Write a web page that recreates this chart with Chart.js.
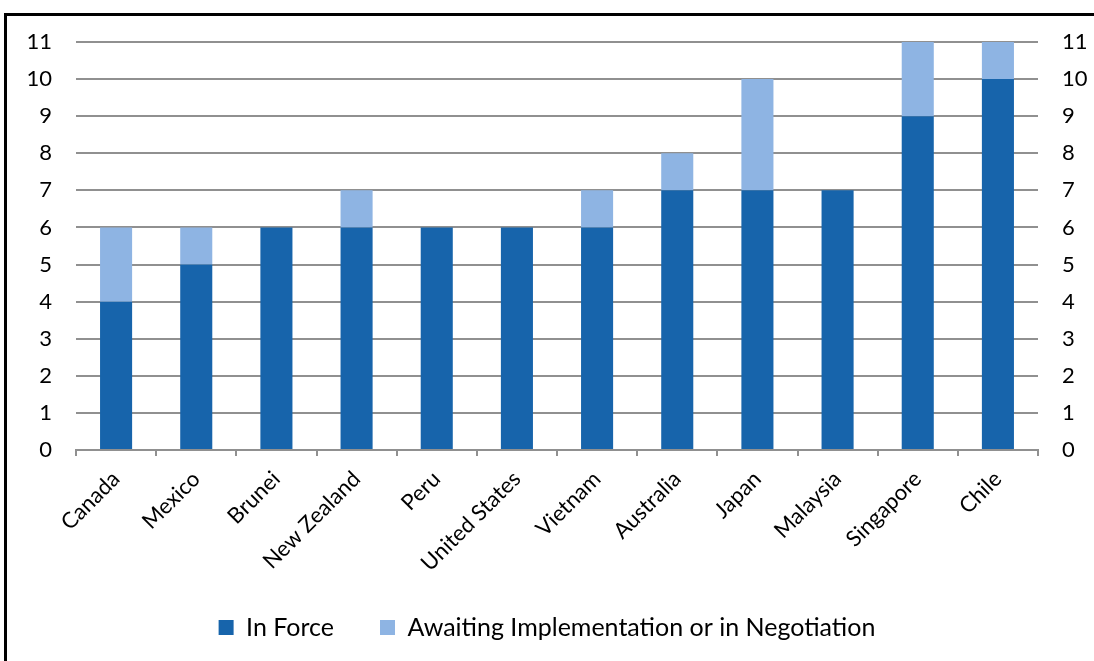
<!DOCTYPE html>
<html><head><meta charset="utf-8">
<script src="https://cdn.jsdelivr.net/npm/chart.js@4/dist/chart.umd.min.js"></script>
<style>html,body{margin:0;padding:0;background:#fff;}#wrap{position:relative;width:1094px;height:661px;}</style>
</head><body><div id="wrap"><canvas id="c" width="1094" height="661"></canvas></div>
<script>
const categories = ["Canada","Mexico","Brunei","New Zealand","Peru","United States","Vietnam","Australia","Japan","Malaysia","Singapore","Chile"];
const inForce = [4,5,6,6,6,6,6,7,7,7,9,10];
const awaiting = [2,1,0,1,0,0,1,1,3,0,2,1];
const seriesNames = ["In Force","Awaiting Implementation or in Negotiation"];
const yTicks = [0,1,2,3,4,5,6,7,8,9,10,11];

const FONT = "Lato, 'Open Sans', sans-serif";
const frame = {
  id:'frame',
  afterDraw(chart){
    const ctx = chart.ctx;
    ctx.save();
    ctx.strokeStyle = '#000';
    ctx.lineWidth = 3;
    ctx.strokeRect(5.5, 14.5, 2000, 2000);
    ctx.restore();
  }
};
new Chart(document.getElementById('c'), {
  type:'bar',
  data:{
    labels: categories,
    datasets:[
      {label: seriesNames[0], data: inForce, backgroundColor:'#1764AB', yAxisID:'y'},
      {label: seriesNames[1], data: awaiting, backgroundColor:'#8EB4E3', yAxisID:'y'}
    ]
  },
  options:{
    responsive:false,
    animation:false,
    devicePixelRatio:1,
    layout:{padding:{top:42,bottom:11,left:0,right:0}},
    datasets:{bar:{categoryPercentage:1, barPercentage:0.4}},
    plugins:{
      tooltip:{enabled:false},
      title:{display:false},
      legend:{
        position:'bottom',
        labels:{
          font:{family:FONT,size:25},
          color:'#000',
          boxWidth:15, boxHeight:15,
          padding:46
        }
      }
    },
    scales:{
      x:{
        stacked:true,
        offset:true,
        grid:{offset:true, drawOnChartArea:false, drawTicks:true, tickLength:6, color:'#909090', lineWidth:2},
        border:{display:true, color:'#909090', width:2},
        ticks:{font:{family:FONT,size:22}, color:'#000', maxRotation:45, minRotation:45, padding:10, autoSkip:false},
        afterFit(s){ s.height = 119; }
      },
      y:{
        stacked:true,
        position:'left',
        min:0, max:11,
        afterBuildTicks(s){ s.ticks = yTicks.map(v=>({value:v})); },
        grid:{color:'#909090', lineWidth:2, drawTicks:false},
        border:{display:false},
        ticks:{font:{family:FONT,size:22}, color:'#000', padding:24},
        afterFit(s){ s.width = 76; }
      },
      y2:{
        position:'right',
        min:0, max:11,
        afterBuildTicks(s){ s.ticks = yTicks.map(v=>({value:v})); },
        grid:{display:false, drawTicks:false},
        border:{display:false},
        ticks:{font:{family:FONT,size:22}, color:'#000', padding:24},
        afterFit(s){ s.width = 56; }
      }
    }
  },
  plugins:[frame]
});
</script></body></html>
